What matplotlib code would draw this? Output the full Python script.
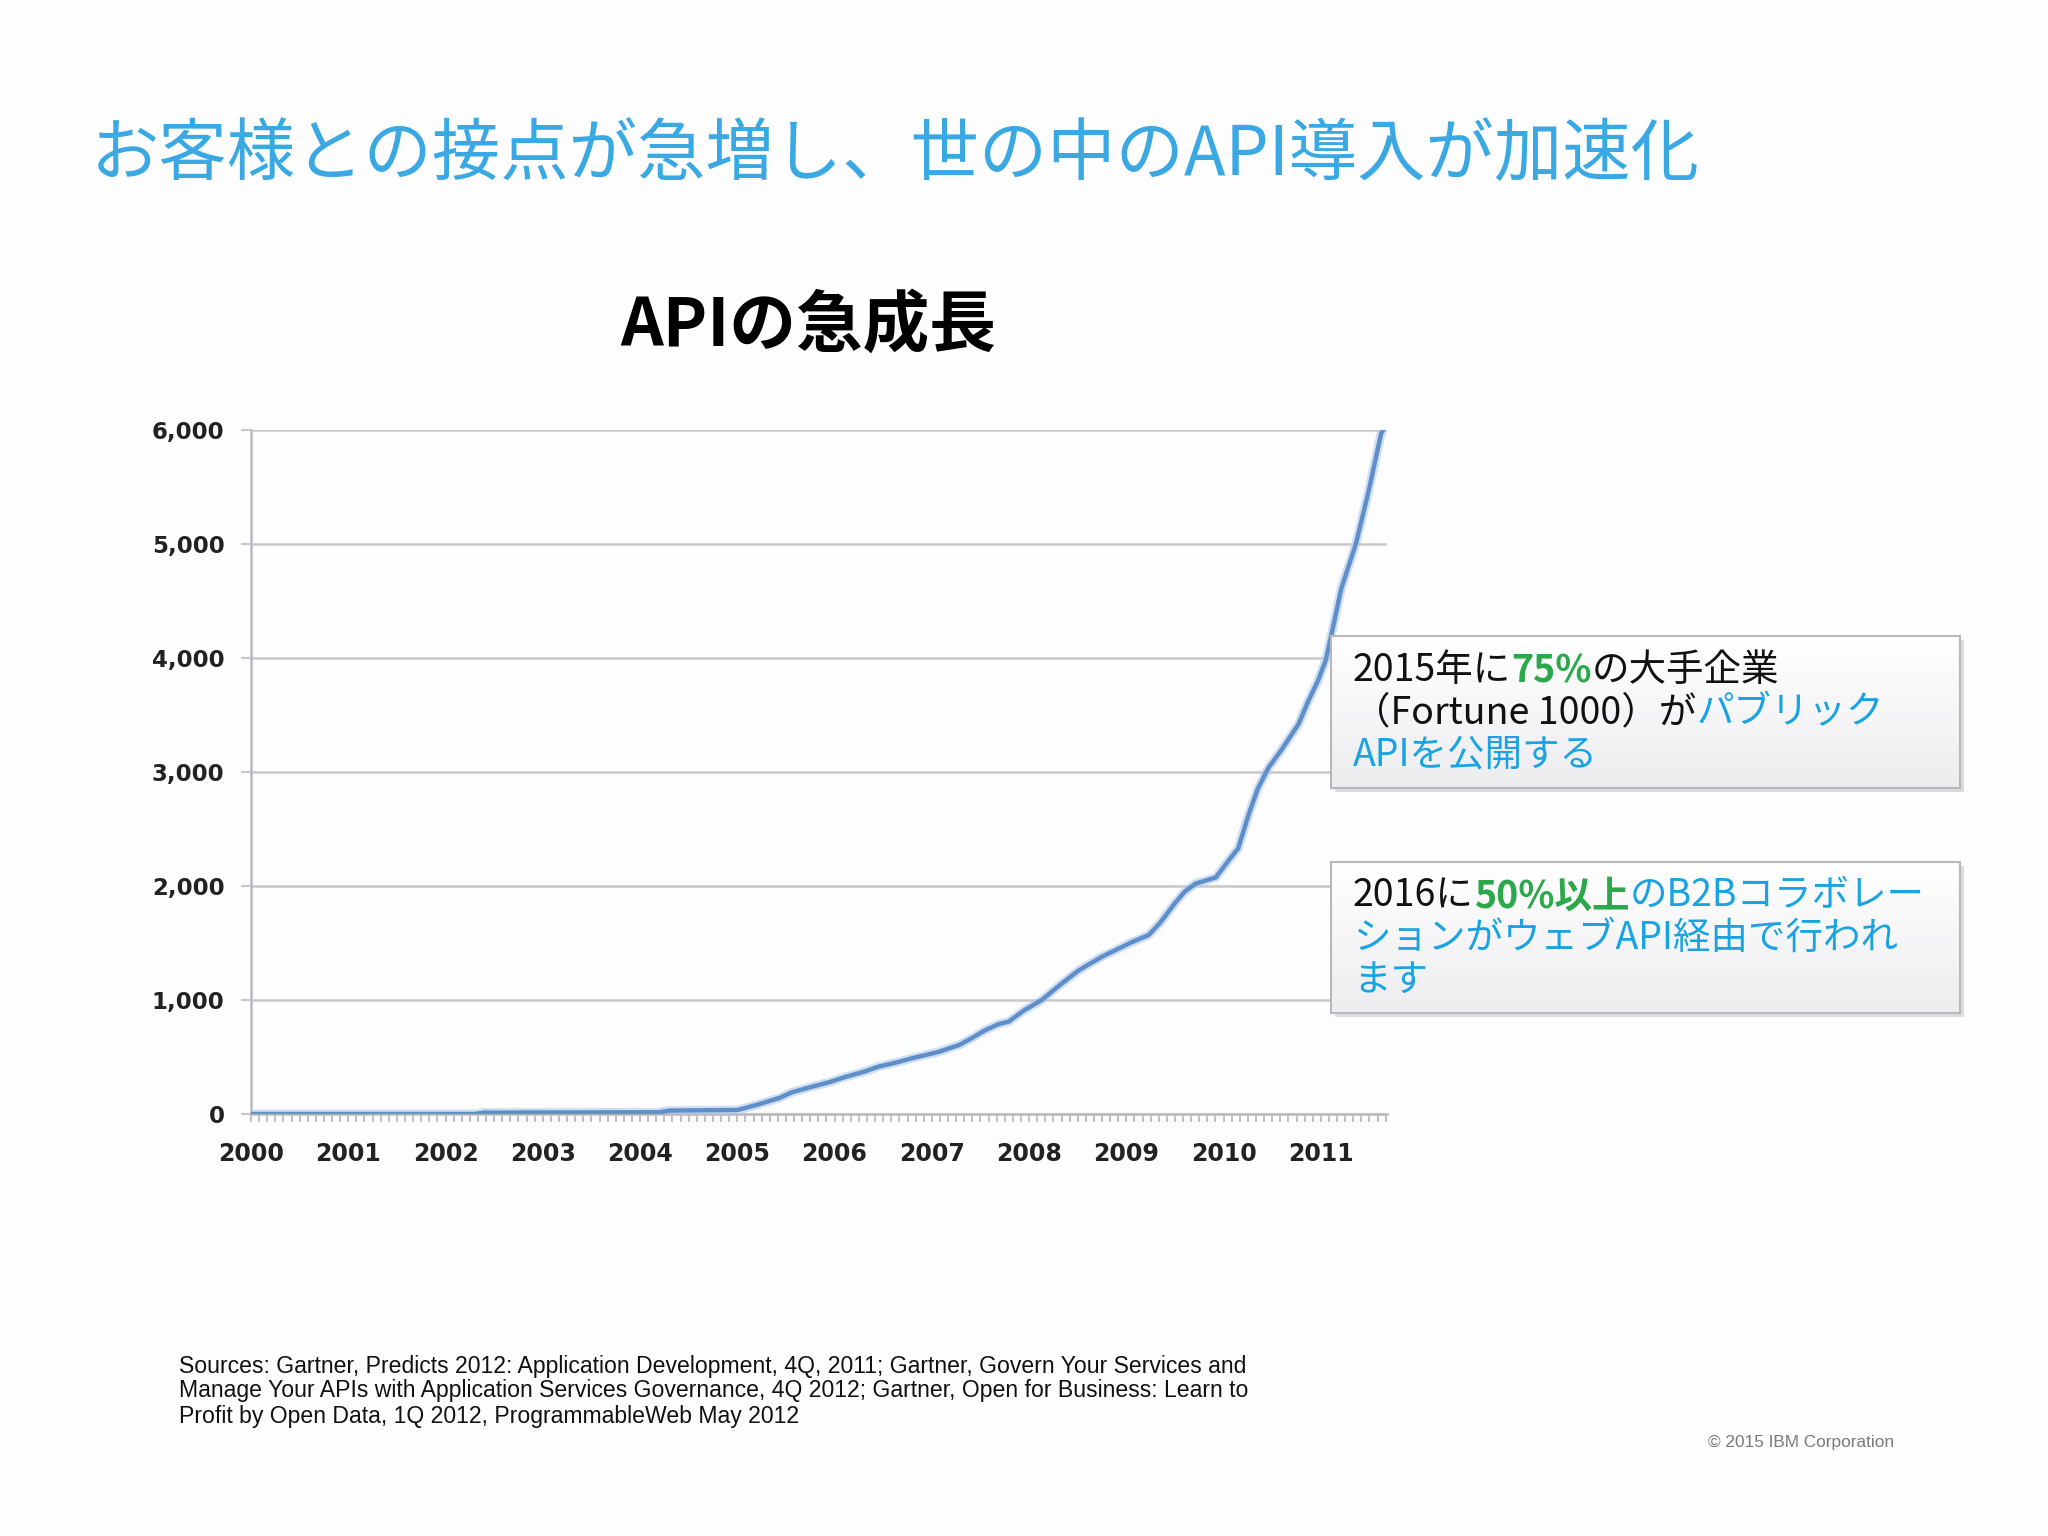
import matplotlib
matplotlib.use("Agg")
import matplotlib.pyplot as plt
from matplotlib.patches import Rectangle
from matplotlib.ticker import MultipleLocator, FuncFormatter
import numpy as np

plt.rcParams['font.family'] = ['Noto Sans CJK JP', 'DejaVu Sans']

# APIの数（ProgrammableWeb）: 年（小数）と件数
api_year = [2000.0, 2002.3, 2002.4, 2004.2, 2004.3, 2005.0, 2005.2, 2005.43, 2005.56,
            2005.77, 2005.95, 2006.11, 2006.3, 2006.45, 2006.65, 2006.8, 2007.07,
            2007.28, 2007.4, 2007.55, 2007.69, 2007.79, 2007.95, 2008.13, 2008.3,
            2008.51, 2008.75, 2009.05, 2009.23, 2009.35, 2009.5, 2009.6, 2009.71,
            2009.92, 2010.05, 2010.15, 2010.26, 2010.35, 2010.46, 2010.6, 2010.77,
            2010.87, 2010.97, 2011.05, 2011.12, 2011.21, 2011.36, 2011.49, 2011.62,
            2011.64]
api_count = [0, 0, 12, 15, 30, 35, 80, 140, 190,
             240, 280, 325, 370, 415, 455, 490, 545,
             605, 660, 735, 790, 810, 910, 1000, 1120,
             1260, 1380, 1505, 1570, 1680, 1850, 1950, 2020,
             2075, 2222, 2330, 2633, 2850, 3036, 3200, 3420,
             3620, 3800, 3980, 4250, 4610, 5000, 5460, 5970,
             6000]
year_labels = [str(y) for y in range(2000, 2012)]

title = "お客様との接点が急増し、世の中のAPI導入が加速化"
chart_title = "APIの急成長"
sources = ["Sources: Gartner, Predicts 2012: Application Development, 4Q, 2011; Gartner, Govern Your Services and",
           "Manage Your APIs with Application Services Governance, 4Q 2012; Gartner, Open for Business: Learn to",
           "Profit by Open Data, 1Q 2012, ProgrammableWeb May 2012"]
copyright_txt = "© 2015 IBM Corporation"

BLACK = "#111111"
GREEN = "#2aa84a"
BLUE = "#1aa3e3"
box1_lines = [
    [("2015年に", BLACK, "normal"), ("75%", GREEN, "bold"), ("の大手企業", BLACK, "normal")],
    [("（Fortune 1000）が", BLACK, "normal"), ("パブリック", BLUE, "normal")],
    [("APIを公開する", BLUE, "normal")],
]
box2_lines = [
    [("2016に", BLACK, "normal"), ("50%以上", GREEN, "bold"), ("のB2Bコラボレー", BLUE, "normal")],
    [("ションがウェブAPI経由で行われ", BLUE, "normal")],
    [("ます", BLUE, "normal")],
]

W, H = 2048, 1536
fig = plt.figure(figsize=(W / 100, H / 100), dpi=100)
fig.patch.set_facecolor("#fdfdfe")


def fx(px):
    return px / W


def fy(py):
    return 1 - py / H


# タイトル
fig.text(fx(91), fy(156), title, fontsize=49.2, color="#3aa9e3", va="center", ha="left")
fig.text(fx(808), fy(326), chart_title, fontsize=48, fontweight="bold", color="black",
         va="center", ha="center")

# グラフ本体
ax = fig.add_axes([fx(251), fy(1114), fx(1387 - 251), (1114 - 430) / H])
ax.set_facecolor("#fdfdfe")
ax.plot(api_year, api_count, color="#b3cbea", lw=6.5, alpha=0.6, solid_capstyle="round", zorder=3)
ax.plot(api_year, api_count, color="#5f8fca", lw=3.2, solid_capstyle="round", zorder=4)
ax.set_xlim(2000, 2011.68)
ax.set_ylim(0, 6000)
ax.set_yticks(range(0, 6001, 1000))
ax.yaxis.set_major_formatter(FuncFormatter(lambda v, p: f"{int(v):,}"))
ax.yaxis.grid(True, color="#c9c9c9", lw=1.8)
ax.set_axisbelow(True)
ax.set_xticks(range(2000, 2012))
ax.set_xticklabels(year_labels)
ax.xaxis.set_minor_locator(MultipleLocator(1 / 12))
for s in ["top", "right"]:
    ax.spines[s].set_visible(False)
ax.spines["left"].set_color("#b8b8c0")
ax.spines["left"].set_linewidth(1.8)
ax.spines["bottom"].set_color("#b8b8c0")
ax.spines["bottom"].set_linewidth(1.8)
ax.tick_params(axis="y", length=7, width=1.5, color="#c9c9c9", pad=12)
ax.tick_params(axis="x", which="both", length=6, width=1.2, color="#b5b5b5", pad=14)
for lab in ax.get_yticklabels():
    lab.set_family("DejaVu Sans")
    lab.set_fontweight("bold")
    lab.set_fontsize(16.5)
    lab.set_color("#222222")
for lab in ax.get_xticklabels():
    lab.set_family("DejaVu Sans")
    lab.set_fontweight("bold")
    lab.set_fontsize(17)
    lab.set_color("#222222")

# 注釈ボックス
renderer = fig.canvas.get_renderer()


def draw_box(x0, y0, x1, y1, lines, line_y):
    shadow = Rectangle((fx(x0 + 4), fy(y1 + 4)), fx(x1 - x0), (y1 - y0) / H,
                       transform=fig.transFigure, facecolor="#dcdce0", edgecolor="none",
                       zorder=1)
    fig.patches.append(shadow)
    bax = fig.add_axes([fx(x0), fy(y1), fx(x1 - x0), (y1 - y0) / H])
    bax.set_zorder(2)
    grad = np.linspace(0, 1, 100).reshape(-1, 1)
    bax.imshow(grad, extent=[0, 1, 0, 1], aspect="auto", origin="upper",
               cmap=matplotlib.colors.LinearSegmentedColormap.from_list(
                   "g", ["#ffffff", "#ededf0"]))
    bax.set_xticks([])
    bax.set_yticks([])
    for s in bax.spines.values():
        s.set_color("#b8b8bc")
        s.set_linewidth(1.5)
    for parts, ly in zip(lines, line_y):
        x = fx(1353)
        for txt, color, weight in parts:
            t = fig.text(x, fy(ly), txt, color=color, fontsize=27, fontweight=weight,
                         va="center", ha="left", zorder=5)
            bb = t.get_window_extent(renderer)
            x = bb.x1 / W


draw_box(1331, 636, 1960, 788, box1_lines, [671, 713, 755])
draw_box(1331, 862, 1960, 1013, box2_lines, [896, 938, 980])

# 出典
for line, ly in zip(sources, [1366, 1391, 1416]):
    fig.text(fx(179), fy(ly), line, family="Liberation Sans", fontsize=16.6,
             color="#111111", va="center", ha="left")
fig.text(fx(1708), fy(1442), copyright_txt, family="Liberation Sans", fontsize=12.4,
         color="#7a7a7a", va="center", ha="left")

fig.savefig("out.png", dpi=100, facecolor=fig.get_facecolor())
